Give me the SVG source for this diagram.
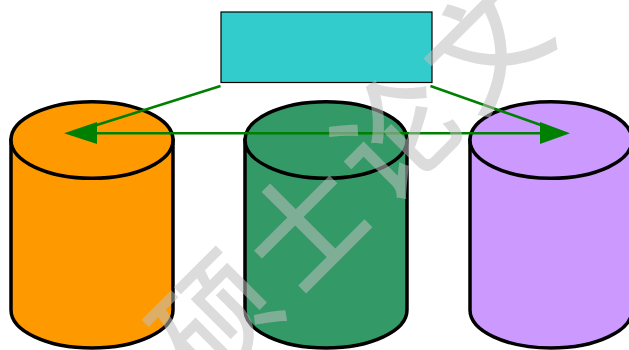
<svg xmlns="http://www.w3.org/2000/svg" width="629" height="350" viewBox="0 0 629 350">
<style>
.cyl{stroke:#000;stroke-width:3.500}
.conn{stroke:#008000;stroke-width:2.500;fill:none}
.wm{font-family:"Noto Sans CJK SC",sans-serif;font-size:118px;font-weight:500;letter-spacing:10px;fill:#c0c0c0;opacity:.54}
</style>
<rect width="629" height="350" fill="#fff"/>
<g id="node-rect"><rect x="221" y="12" width="211" height="70.500" fill="#33cccc" stroke="#000" stroke-width="1.200"/></g>
<g id="node-cyl-1"><path class="cyl" fill="#ff9900" d="M11 140V310A81 38 0 0 0 173 310V140Z"/><ellipse class="cyl" cx="92" cy="140" rx="81" ry="38.300" fill="#ff9900"/></g>
<g id="node-cyl-2"><path class="cyl" fill="#339966" d="M245 140V310A81 38 0 0 0 407 310V140Z"/><ellipse class="cyl" cx="326" cy="140" rx="81" ry="38.300" fill="#339966"/></g>
<g id="node-cyl-3"><path class="cyl" fill="#cc99ff" d="M470 140V310A81 38 0 0 0 632 310V140Z"/><ellipse class="cyl" cx="551" cy="140" rx="81" ry="38.300" fill="#cc99ff"/></g>
<g id="connectors">
<path class="conn" d="M220.500 86L84 129"/>
<path class="conn" d="M430.500 86L552 129"/>
<path class="conn" d="M95 133.300H541"/>
<path d="M64 133.300L97 122V144Z" fill="#008000"/>
<path d="M570 133.300L540 122V144Z" fill="#008000"/>
</g>
<text class="wm" transform="translate(204 390) rotate(-45)">硕士论文</text>
</svg>
